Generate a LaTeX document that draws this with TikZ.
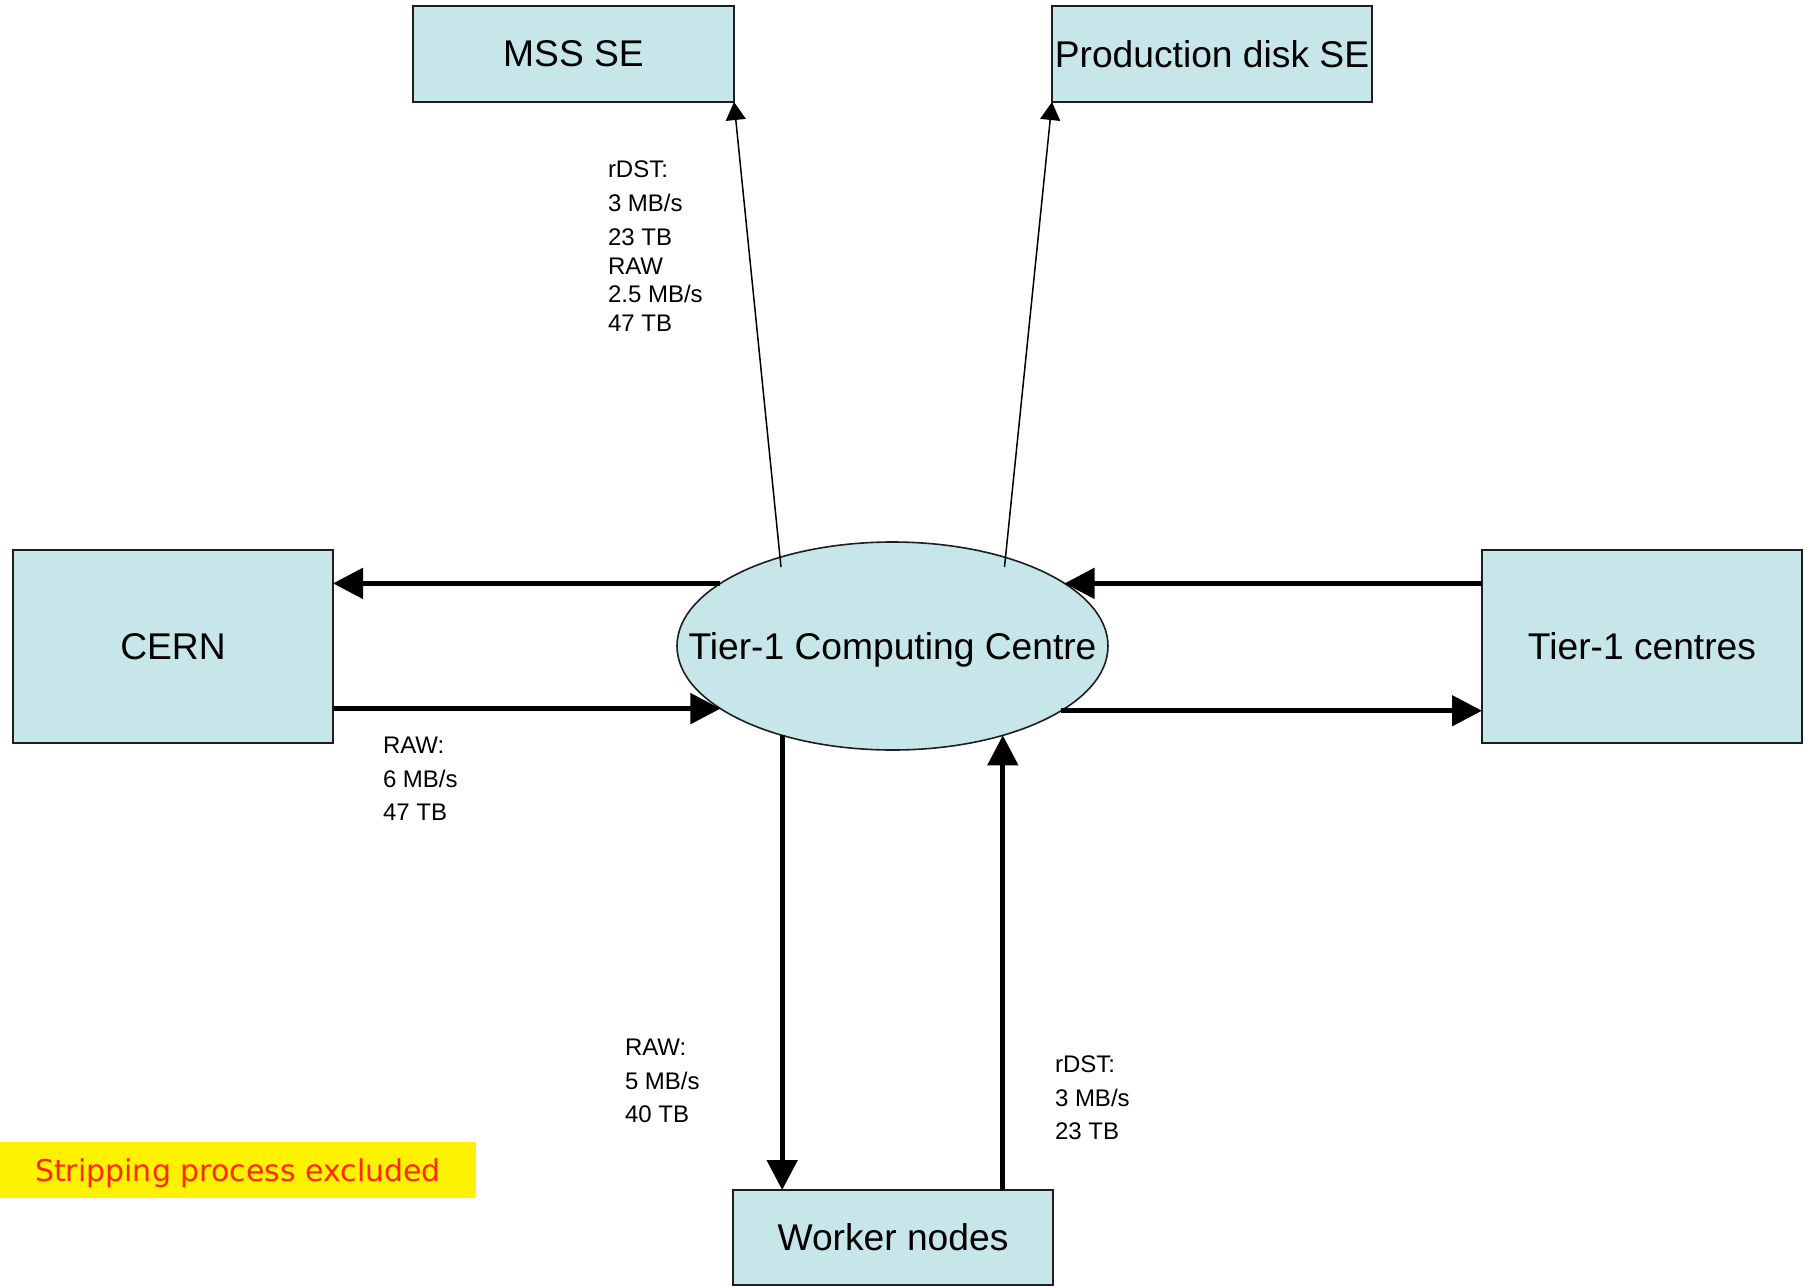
\documentclass[tikz,border=0pt]{standalone}
\usepackage{fontspec}
\setmainfont{Liberation Sans}
\newfontfamily\dejavu{DejaVu Sans}
\usetikzlibrary{arrows.meta,calc,shapes.geometric}
\definecolor{boxfill}{RGB}{198,230,234}
\definecolor{boxline}{RGB}{30,30,30}
\definecolor{notered}{RGB}{255,40,0}
\begin{document}
\begin{tikzpicture}[x=0.5pt,y=-0.5pt,
  box/.style={draw=boxline,fill=boxfill,line width=0.8pt,inner sep=0pt,outer sep=0pt,font=\fontsize{18.6}{21}\selectfont},
  bigflow/.style={line width=2.5pt,-{Triangle[length=15pt,width=15pt]}},
  thinflow/.style={line width=0.75pt,-{Triangle[length=9pt,width=10pt]}},
  lbl/.style={anchor=north west,inner sep=0pt,outer sep=0pt,align=left,font=\fontsize{12}{16.75}\selectfont}]
\useasboundingbox (0,0) rectangle (1805,1286);

% boxes
\node[box,minimum width=160.5pt,minimum height=48pt] (mss) at (573.5,54) {MSS SE};
\node[box,minimum width=160pt,minimum height=48pt] (prod) at (1212,54) {Production disk SE};
\node[box,minimum width=160pt,minimum height=96.5pt] (cern) at (173,646.5) {CERN};
\node[box,minimum width=160pt,minimum height=96.5pt] (t1) at (1642,646.5) {Tier-1 centres};
\node[box,minimum width=160pt,minimum height=47.5pt] (worker) at (893,1237.5) {Worker nodes};
\node[box,ellipse,text depth=0pt,minimum width=215.5pt,minimum height=104pt] (ell) at (892.5,646) {\makebox[0pt][c]{Tier-1 Computing Centre}};

% thin arrows to storage elements
\draw[thinflow] ($(ell.center)+(-111.5,-79)$) -- (mss.south east);
\draw[thinflow] ($(ell.center)+(112,-79)$) -- (prod.south west);

% thick arrows
\draw[bigflow] (ell.160.5) -- (cern.east |- ell.160.5);
\draw[bigflow] (cern.east |- ell.200.5) -- (ell.200.5);
\draw[bigflow] (t1.west |- ell.20.5) -- (ell.20.5);
\draw[bigflow] (ell.339.5) -- (t1.west |- ell.339.5);
\draw[bigflow] (ell.219) -- (ell.219 |- worker.north);
\draw[bigflow] (ell.321 |- worker.north) -- (ell.321);

% labels
\node[lbl] (lmss) at (608,161) {rDST:\\3 MB/s\\[0.5pt]23 TB\\[-2.5pt]RAW\\[-2.5pt]2.5 MB/s\\[-2.5pt]47 TB};
\node[lbl] (lcern) at (383,737) {RAW:\\6 MB/s\\47 TB};
\node[lbl] (lwdown) at (625,1039) {RAW:\\5 MB/s\\40 TB};
\node[lbl] (lwup) at (1055,1056) {rDST:\\3 MB/s\\23 TB};

% note
\node[fill=yellow,minimum width=238pt,minimum height=28pt,inner sep=0pt,text depth=0pt,text=notered,font=\dejavu\fontsize{15}{18}\selectfont] (note) at (238,1170) {Stripping process excluded};
\end{tikzpicture}
\end{document}
